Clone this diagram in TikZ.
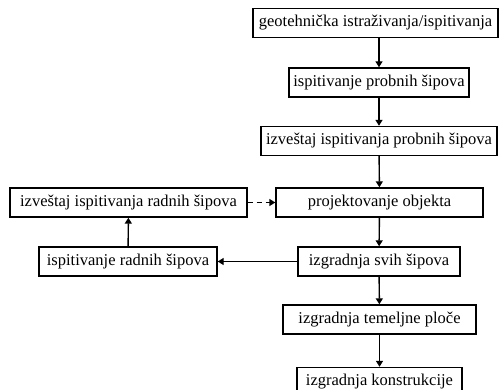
\documentclass[tikz,border=0pt]{standalone}
\usepackage{fontspec}
\setmainfont{Liberation Serif}
\usetikzlibrary{arrows.meta}

\begin{document}
\begin{tikzpicture}[x=1pt,y=1pt,>={Triangle[length=6pt,width=7pt]},
  box/.style={draw,line width=1.4pt,minimum height=29pt,inner xsep=4pt,inner ysep=2pt,font=\fontsize{16.5}{18}\selectfont},
  link/.style={->,line width=1.4pt}]
  \useasboundingbox (0,0) rectangle (502,389);
  \node[box,minimum width=245pt] (geo) at (375.5,366) {geotehnička istraživanja/ispitivanja};
  \node[box,minimum width=180pt] (probni) at (379,306.5) {ispitivanje probnih šipova};
  \node[box,minimum width=236pt] (izvprob) at (379,248) {izveštaj ispitivanja probnih šipova};
  \node[box,minimum width=207pt] (proj) at (379.5,186.5) {projektovanje objekta};
  \node[box,minimum width=237pt] (izvrad) at (128.5,186.5) {izveštaj ispitivanja radnih šipova};
  \node[box,minimum width=178pt] (ispitrad) at (128,127.5) {ispitivanje radnih šipova};
  \node[box,minimum width=162pt] (svih) at (379,127.5) {izgradnja svih šipova};
  \node[box,minimum width=193pt] (temelj) at (379.5,69.5) {izgradnja temeljne ploče};
  \node[box,minimum width=165pt] (konstr) at (379.5,7) {izgradnja konstrukcije};
  \draw[link] (geo.south -| probni.north) -- (probni.north);
  \draw[link] (probni) -- (izvprob);
  \draw[link] (izvprob) -- (proj);
  \draw[link] (proj) -- (svih);
  \draw[link] (svih) -- (temelj);
  \draw[link] (temelj) -- (konstr);
  \draw[link] (svih) -- (ispitrad);
  \draw[link] (ispitrad) -- (izvrad);
  \draw[link,dash pattern=on 5pt off 4pt] (izvrad) -- (proj);
\end{tikzpicture}
\end{document}
